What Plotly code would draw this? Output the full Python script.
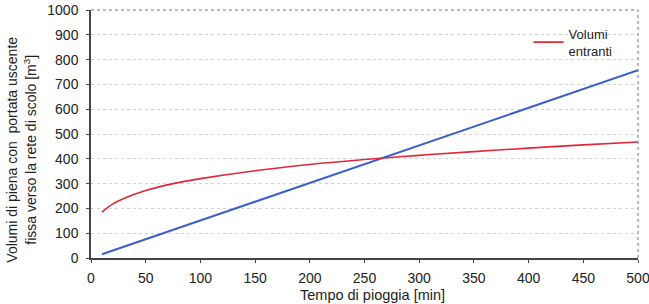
import plotly.graph_objects as go

# Data
t_in = [10, 20, 30, 50, 75, 100, 150, 200, 250, 300, 350, 400, 450, 500]
v_in = [185, 218, 240, 272, 300, 320, 352, 377, 397, 414, 429, 443, 456, 468]

t_out = [10, 100, 200, 300, 400, 500]
v_out = [15, 151, 303, 454, 606, 757]

x_ticks = [0, 50, 100, 150, 200, 250, 300, 350, 400, 450, 500]
y_ticks = [0, 100, 200, 300, 400, 500, 600, 700, 800, 900, 1000]

x_title = "Tempo di pioggia [min]"
y_title = "Volumi di piena con  portata uscente<br>fissa verso la rete di scolo [m<sup>3</sup>]"

fig = go.Figure()
fig.add_trace(go.Scatter(x=t_out, y=v_out, mode="lines", name="Volumi uscenti",
                         line=dict(color="#3b5fcc", width=2), showlegend=False))
fig.add_trace(go.Scatter(x=t_in, y=v_in, mode="lines", name="Volumi<br>entranti",
                         line=dict(color="#e0283a", width=1.6, shape="spline")))

font_family = "Liberation Sans, Arial, sans-serif"
fig.update_layout(
    width=649, height=304,
    margin=dict(l=91, r=11, t=10, b=46),
    paper_bgcolor="white", plot_bgcolor="white",
    font=dict(family=font_family, size=14, color="#222"),
    legend=dict(x=0.80, y=0.965, xanchor="left", yanchor="top",
                bgcolor="rgba(0,0,0,0)", font=dict(size=13),
                itemwidth=30, tracegroupgap=0),
    xaxis=dict(range=[0, 500], tickvals=x_ticks, showgrid=False, automargin=False,
               showline=True, linecolor="#444", linewidth=1.5,
               ticks="outside", ticklen=3, tickcolor="#444", ticklabelstandoff=3,
               ticklabeloverflow="allow", mirror=False, zeroline=False),
    yaxis=dict(range=[0, 1000], tickvals=y_ticks, showgrid=True, automargin=False,
               gridcolor="#d2d2d2", griddash="dot", gridwidth=1,
               showline=True, linecolor="#444", linewidth=1.5,
               ticks="outside", ticklen=3, tickcolor="#444", ticklabelstandoff=5,
               ticklabeloverflow="allow", zeroline=False),
)
fig.add_annotation(text=x_title, xref="paper", yref="paper", x=0.5155, y=-0.149,
                   xanchor="center", yanchor="middle", showarrow=False,
                   font=dict(size=14.5))
fig.add_annotation(text=y_title, xref="paper", yref="paper", x=-0.127, y=0.435,
                   xanchor="center", yanchor="middle", showarrow=False, textangle=-90,
                   font=dict(size=14))
# dotted top/right frame
fig.add_shape(type="line", xref="paper", yref="paper", x0=0, x1=1, y0=1, y1=1,
              line=dict(color="#777", width=1, dash="dot"))
fig.add_shape(type="line", xref="paper", yref="paper", x0=1, x1=1, y0=0, y1=1,
              line=dict(color="#777", width=1, dash="dot"))

fig.write_html("out.html", post_script="document.body.style.margin='0px';",
               config={"displayModeBar": False})
